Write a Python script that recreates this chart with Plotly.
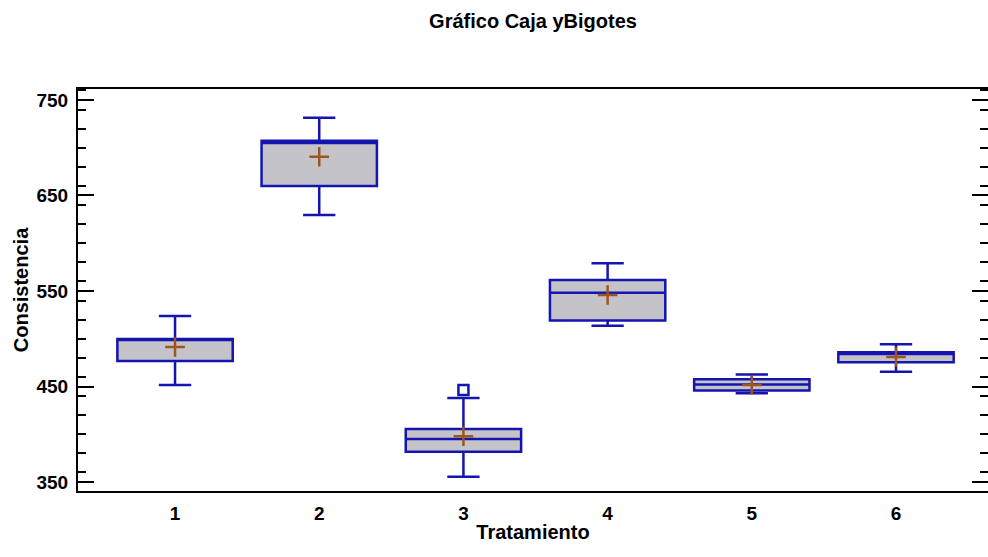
import plotly.graph_objects as go

# Box-and-whisker summary per treatment
tratamientos = [1, 2, 3, 4, 5, 6]
bigote_sup = [523.8, 731.5, 438.0, 579.0, 462.7, 494.2]
q3 = [499.7, 707.4, 405.5, 561.5, 457.5, 485.8]
mediana = [499.0, 705.0, 395.0, 548.3, 452.0, 484.0]
q1 = [476.7, 660.0, 381.7, 519.0, 445.7, 475.3]
bigote_inf = [451.6, 629.6, 355.6, 513.7, 443.0, 465.5]
media = [491.4, 690.6, 398.0, 545.8, 451.6, 481.0]

# Points beyond the whiskers
atipicos_x = [3]
atipicos_y = [446.3]

ticks_y = [350, 450, 550, 650, 750]

AZUL = "#1414b0"
GRIS = "#c4c4c8"
MARRON = "#9b5523"
FUENTE = "Liberation Sans, Arial, sans-serif"

fig = go.Figure()

for i, t in enumerate(tratamientos):
    fig.add_trace(go.Box(
        x=[t],
        q1=[q1[i]], median=[mediana[i]], q3=[q3[i]],
        lowerfence=[bigote_inf[i]], upperfence=[bigote_sup[i]],
        width=0.8,
        whiskerwidth=0.28,
        fillcolor=GRIS,
        line=dict(color=AZUL, width=2.5),
        boxpoints=False,
        showlegend=False,
        hoverinfo="skip",
    ))

fig.add_trace(go.Scatter(
    x=atipicos_x, y=atipicos_y, mode="markers",
    marker=dict(symbol="square-open", size=10, color=AZUL, line=dict(width=2.5, color=AZUL)),
    showlegend=False, hoverinfo="skip",
))

fig.add_trace(go.Scatter(
    x=tratamientos, y=media, mode="markers",
    marker=dict(symbol="cross-thin", size=14, line=dict(width=2.5, color=MARRON)),
    showlegend=False, hoverinfo="skip",
))

# dummy trace so the right-hand tick axis is drawn
fig.add_trace(go.Scatter(x=[None], y=[None], yaxis="y2", showlegend=False, hoverinfo="skip"))

rango_y = [340.6, 761.5]

fig.update_layout(
    width=988, height=557,
    margin=dict(l=78, r=0, t=89, b=66),
    paper_bgcolor="white", plot_bgcolor="white",
    boxmode="overlay",
    font=dict(family=FUENTE, color="black"),
    title=dict(
        text="<b>Gráfico Caja yBigotes</b>",
        x=0.5, xref="paper", xanchor="center",
        y=1 - 21 / 557, yref="container", yanchor="middle",
        font=dict(size=20, family=FUENTE, color="black"),
    ),
    xaxis=dict(
        range=[0.327, 6.638],
        tickvals=tratamientos, ticktext=[f"<b>{t}</b>" for t in tratamientos],
        ticks="", showgrid=False, zeroline=False,
        showline=True, linecolor="black", linewidth=2, mirror=True,
        tickfont=dict(size=19, family=FUENTE),
        ticklabelstandoff=4,
        title=dict(text="<b>Tratamiento</b>", font=dict(size=20, family=FUENTE), standoff=2),
    ),
    yaxis=dict(
        range=rango_y,
        tickvals=ticks_y, ticktext=[f"<b>{v}</b>" for v in ticks_y],
        ticks="inside", ticklen=16, tickwidth=2, tickcolor="black",
        minor=dict(dtick=20, ticks="inside", ticklen=8, tickwidth=2, tickcolor="black"),
        showgrid=False, zeroline=False,
        showline=True, linecolor="black", linewidth=2,
        tickfont=dict(size=19, family=FUENTE),
        ticklabelstandoff=4,
        title=dict(text="<b>Consistencia</b>", font=dict(size=20, family=FUENTE), standoff=2),
    ),
    yaxis2=dict(
        overlaying="y", side="right", range=rango_y,
        tickvals=ticks_y,
        ticks="inside", ticklen=16, tickwidth=2, tickcolor="black",
        minor=dict(dtick=20, ticks="inside", ticklen=8, tickwidth=2, tickcolor="black"),
        showgrid=False, zeroline=False, showline=False, showticklabels=False,
    ),
)

fig.write_html("out.html")
